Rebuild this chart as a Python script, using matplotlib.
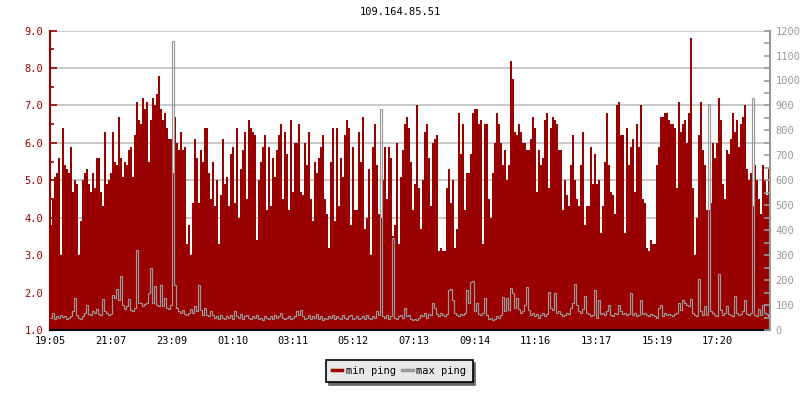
import numpy as np
import matplotlib
matplotlib.use("Agg")
import matplotlib.pyplot as plt
from matplotlib.lines import Line2D
from matplotlib.ticker import MultipleLocator, FormatStrFormatter

# ---------------- data ----------------
title = "109.164.85.51"
tick_labels = ["19:05", "21:07", "23:09", "01:10", "03:11", "05:12",
               "07:13", "09:14", "11:16", "13:17", "15:19", "17:20"]
start_label = "19:05"
span_minutes = 1440
series_names = ["min ping", "max ping"]

# min ping (left axis), four 6-hour blocks
min_ping_a = [3.8, 4.5, 5.1, 5.2, 5.6, 3.0, 6.4, 5.4, 5.3, 5.2,
              5.9, 4.7, 5.0, 4.9, 3.0, 3.9, 5.0, 5.2, 5.3, 4.9,
              4.7, 5.2, 4.8, 5.6, 5.6, 4.7, 4.3, 6.3, 4.9, 5.0,
              5.2, 6.3, 5.5, 5.4, 6.7, 5.6, 5.1, 5.5, 5.4, 5.8,
              5.9, 5.1, 6.2, 7.1, 6.6, 6.5, 7.2, 6.9, 7.1, 5.5,
              6.6, 7.2, 7.0, 7.3, 7.8, 6.9, 6.6, 6.8, 6.4, 6.1,
              6.1, 5.2, 6.7, 6.0, 5.8, 6.3, 5.8, 5.9, 3.3, 3.8,
              3.0, 4.4, 6.1, 5.6, 4.4, 5.8, 5.5, 6.4, 6.4, 5.2,
              4.5, 5.5, 4.3, 5.0, 3.3, 4.6, 6.1, 4.9, 5.1, 4.3]
min_ping_b = [5.7, 5.9, 4.4, 6.4, 4.0, 5.3, 5.8, 6.3, 4.5, 6.6,
              6.4, 6.3, 6.2, 3.4, 5.0, 5.5, 5.9, 6.2, 4.2, 5.9,
              4.3, 5.6, 5.1, 5.8, 6.2, 6.5, 4.5, 6.3, 5.7, 4.2,
              6.6, 4.7, 6.0, 6.0, 6.5, 4.7, 4.6, 6.0, 5.4, 6.3,
              4.5, 3.9, 5.5, 5.2, 5.6, 5.9, 6.2, 4.5, 4.1, 3.2,
              5.5, 6.4, 3.9, 6.4, 4.3, 5.6, 5.1, 6.2, 6.6, 6.4,
              3.8, 5.9, 4.2, 4.2, 6.3, 5.5, 6.7, 3.7, 4.0, 5.3,
              3.0, 5.9, 6.5, 5.4, 4.1, 4.0, 5.0, 5.9, 4.5, 5.9,
              5.6, 3.5, 3.8, 6.0, 3.3, 5.1, 5.8, 6.5, 6.7, 6.4]
min_ping_c = [5.5, 4.2, 4.9, 7.0, 4.8, 3.7, 5.0, 6.3, 6.5, 5.6,
              4.3, 6.0, 6.1, 6.2, 3.1, 3.2, 3.1, 3.1, 4.8, 5.3,
              4.4, 5.0, 3.2, 3.7, 6.8, 5.7, 6.5, 4.2, 5.2, 5.2,
              5.7, 6.8, 6.9, 6.9, 6.5, 6.6, 3.3, 6.5, 6.5, 4.5,
              4.0, 5.2, 6.0, 6.8, 6.5, 6.0, 5.4, 5.8, 5.0, 5.4,
              8.2, 7.7, 6.3, 6.2, 6.5, 6.3, 6.0, 6.0, 5.8, 5.8,
              6.1, 6.7, 6.4, 4.7, 5.8, 5.4, 5.6, 6.6, 6.8, 4.8,
              6.4, 6.7, 6.6, 6.5, 5.8, 5.8, 4.2, 5.0, 4.6, 4.3,
              5.4, 6.2, 5.0, 4.5, 4.3, 5.4, 6.3, 3.8, 4.3, 4.3]
min_ping_d = [5.9, 4.9, 5.7, 4.9, 5.0, 3.6, 4.3, 5.5, 6.8, 5.4,
              4.7, 4.6, 4.1, 7.0, 7.1, 6.2, 6.2, 3.6, 6.4, 5.4,
              5.9, 6.1, 4.7, 6.5, 5.9, 7.0, 4.5, 4.4, 3.2, 3.1,
              3.4, 3.3, 3.3, 5.4, 5.9, 6.7, 6.7, 6.8, 6.8, 6.6,
              6.5, 6.5, 6.4, 4.8, 7.1, 6.3, 6.5, 6.6, 6.0, 6.8,
              8.8, 4.8, 3.0, 4.0, 6.2, 7.1, 5.8, 5.4, 4.2, 4.2,
              4.4, 6.0, 5.6, 6.0, 7.2, 6.6, 4.9, 4.5, 5.8, 5.7,
              6.1, 6.8, 6.3, 6.6, 5.9, 6.5, 6.7, 7.0, 5.3, 5.0,
              5.2, 4.3, 5.4, 5.0, 4.5, 4.1, 5.4, 5.0, 4.6, 5.3]

# max ping (right axis, ms)
max_ping_a = [50, 70, 45, 55, 48, 60, 52, 58, 45, 50,
              55, 75, 130, 60, 50, 45, 55, 70, 100, 65,
              60, 75, 70, 85, 65, 60, 125, 75, 70, 60,
              65, 140, 130, 165, 120, 215, 100, 85, 95, 125,
              80, 75, 90, 320, 110, 110, 95, 105, 110, 150,
              250, 110, 175, 100, 95, 180, 95, 130, 90, 85,
              100, 1160, 180, 90, 75, 70, 80, 65, 60, 70,
              85, 70, 95, 75, 180, 80, 60, 90, 60, 55,
              75, 60, 50, 55, 45, 60, 50, 45, 55, 48]
max_ping_b = [60, 45, 75, 55, 50, 65, 45, 55, 60, 50,
              45, 55, 50, 60, 45, 50, 40, 55, 50, 45,
              55, 45, 60, 50, 55, 70, 50, 45, 50, 55,
              45, 50, 55, 75, 60, 80, 55, 45, 50, 60,
              45, 55, 50, 65, 45, 55, 40, 50, 45, 55,
              50, 60, 45, 55, 50, 45, 60, 50, 45, 55,
              60, 45, 50, 55, 45, 50, 55, 45, 60, 50,
              45, 55, 50, 75, 60, 885, 55, 50, 60, 45,
              55, 370, 50, 45, 55, 60, 50, 90, 55, 60]
max_ping_c = [45, 40, 45, 40, 50, 60, 55, 70, 50, 65,
              60, 107, 90, 65, 55, 70, 60, 55, 65, 160,
              163, 120, 70, 60, 55, 65, 60, 70, 160, 110,
              194, 196, 75, 107, 65, 60, 70, 127, 60, 45,
              50, 40, 45, 55, 50, 60, 133, 75, 127, 80,
              167, 147, 90, 127, 85, 70, 75, 100, 171, 80,
              60, 70, 55, 65, 50, 60, 70, 55, 65, 153,
              90, 80, 147, 70, 75, 65, 55, 60, 70, 65,
              90, 110, 184, 100, 75, 70, 85, 137, 70, 65]
max_ping_d = [55, 60, 160, 50, 120, 65, 70, 60, 75, 100,
              60, 55, 70, 65, 100, 75, 65, 70, 60, 65,
              147, 60, 70, 55, 60, 120, 65, 70, 60, 55,
              65, 60, 55, 50, 90, 100, 55, 70, 60, 65,
              60, 55, 65, 70, 110, 80, 120, 110, 100, 95,
              125, 70, 60, 55, 204, 75, 60, 95, 60, 905,
              75, 70, 60, 55, 223, 80, 60, 70, 95, 65,
              60, 55, 136, 70, 60, 65, 75, 120, 65, 60,
              70, 930, 60, 55, 85, 60, 100, 70, 65, 55]

min_ping = np.array(min_ping_a + min_ping_b + min_ping_c + min_ping_d)
max_ping = np.array(max_ping_a + max_ping_b + max_ping_c + max_ping_d)

# ---------------- styling ----------------
RED = "#990000"
GRAY = "#999999"
FONT = "DejaVu Sans Mono"
FS = 7.5


def minutes_since_start(lbl):
    h, m = map(int, lbl.split(":"))
    h0, m0 = map(int, start_label.split(":"))
    return ((h * 60 + m) - (h0 * 60 + m0)) % 1440


fig = plt.figure(figsize=(8, 4), dpi=100)
ax = fig.add_axes([0.0625, 0.175, 0.9, 0.7485])

edges = np.linspace(0, span_minutes, len(min_ping) + 1)
ax.stairs(min_ping, edges, baseline=1.0, fill=True, color=RED, lw=0, zorder=2)
ax.set_xlim(0, span_minutes)
ax.set_ylim(1, 9)
ax.set_axisbelow(True)
ax.yaxis.grid(True, which="major", color="#c0c0c0", lw=1.2, zorder=0)

ax2 = ax.twinx()
ax2.stairs(max_ping, edges, baseline=None, color=GRAY, lw=0.85, zorder=3)
ax2.set_ylim(0, 1200)

# spines
ax.spines["top"].set_visible(False)
ax.spines["right"].set_visible(False)
ax.spines["left"].set_color(RED)
ax.spines["left"].set_linewidth(1.5)
ax.spines["bottom"].set_color("black")
ax.spines["bottom"].set_linewidth(1.5)
for s in ("top", "left", "bottom"):
    ax2.spines[s].set_visible(False)
ax2.spines["right"].set_color(GRAY)
ax2.spines["right"].set_linewidth(1.5)

# left axis ticks
ax.yaxis.set_major_locator(MultipleLocator(1))
ax.yaxis.set_minor_locator(MultipleLocator(0.5))
ax.yaxis.set_major_formatter(FormatStrFormatter("%.1f"))
ax.tick_params(axis="y", which="major", direction="in", length=5, width=1.2,
               color=RED, labelcolor=RED, pad=5, labelsize=FS)
ax.tick_params(axis="y", which="minor", direction="in", length=3, width=1.2,
               color=RED)

# right axis ticks
ax2.yaxis.set_major_locator(MultipleLocator(100))
ax2.yaxis.set_minor_locator(MultipleLocator(50))
ax2.tick_params(axis="y", which="major", direction="in", length=4, width=1.2,
                color=GRAY, labelcolor=GRAY, pad=4, labelsize=FS)
ax2.tick_params(axis="y", which="minor", direction="in", length=4, width=1.2,
                color=GRAY)

# x ticks
ax.set_xticks([minutes_since_start(l) for l in tick_labels])
ax.set_xticklabels(tick_labels)
ax.tick_params(axis="x", direction="in", length=5, width=1.5, color="black",
               labelcolor="black", pad=4, labelsize=FS)

for lab in ax.get_xticklabels() + ax.get_yticklabels() + ax2.get_yticklabels():
    lab.set_family(FONT)

fig.text(0.5, 1 - 12 / 400, title, ha="center", va="center",
         fontsize=FS, family=FONT, color="black")

handles = [Line2D([], [], color=RED, lw=2.5), Line2D([], [], color=GRAY, lw=2.5)]
leg = fig.legend(handles, series_names, loc="center",
                 bbox_to_anchor=(0.499, 0.0725), ncol=2, frameon=True,
                 fancybox=False, edgecolor="black", facecolor="#e8e8e8",
                 framealpha=1,
                 shadow={"facecolor": "#666666", "edgecolor": "#666666", "alpha": 1},
                 handlelength=1.0, handletextpad=0.35, columnspacing=0.6,
                 borderpad=0.6, prop={"family": FONT, "size": FS})
leg.get_frame().set_linewidth(1.2)

fig.savefig("out.png", dpi=100)
